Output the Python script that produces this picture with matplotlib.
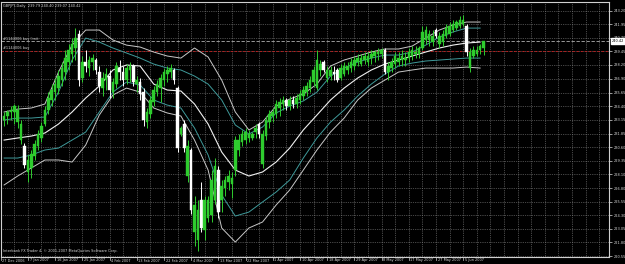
import matplotlib
matplotlib.use("Agg")
import matplotlib.pyplot as plt
import matplotlib.transforms as mtransforms

# ---------------- data ----------------
bars = list(range(1, 143))
opens = [233.11, 233.48, 233.85, 233.85, 232.92, 231.26, 230.71, 228.31, 228.68, 229.79,
         230.71, 231.45, 232.74, 234.03, 234.96, 235.69, 236.06, 236.80, 237.54, 238.47,
         239.20, 239.76, 241.05, 236.99, 238.47, 237.91, 238.47, 238.65, 237.54, 236.06,
         236.80, 237.17, 235.69, 236.43, 237.91, 237.54, 236.80, 237.73, 238.10, 236.43,
         236.62, 235.69, 232.92, 233.66, 234.77, 235.69, 236.06, 236.80, 237.36, 237.54,
         237.73, 236.06, 231.82, 232.74, 227.94, 230.34, 222.77, 222.03, 225.72, 222.95,
         224.06, 224.34, 225.72, 228.49, 225.72, 226.83, 227.38, 227.20, 228.49, 230.34,
         231.08, 231.26, 231.45, 231.45, 232.00, 232.74, 229.05, 231.63, 232.92, 233.48,
         233.66, 234.22, 234.59, 234.96, 234.40, 234.96, 234.59, 234.96, 235.33, 235.69,
         236.06, 236.62, 236.06, 237.73, 238.47, 236.99, 237.17, 237.54, 237.73, 236.99,
         237.36, 237.73, 237.91, 238.10, 238.47, 238.28, 238.65, 238.47, 238.83, 239.02,
         239.20, 239.20, 239.57, 237.54, 237.91, 238.28, 238.47, 238.65, 238.65, 238.83,
         239.02, 239.20, 239.20, 239.76, 240.50, 240.50, 240.31, 241.42, 240.13, 240.31,
         240.87, 241.05, 241.42, 241.60, 241.79, 241.97, 241.79, 237.91, 239.02, 239.20,
         239.57, 239.79]
highs = [233.85, 234.03, 234.40, 234.59, 234.50, 233.11, 230.99, 229.88, 230.34, 231.26,
         232.19, 232.92, 234.40, 235.69, 236.43, 236.99, 237.73, 238.47, 239.57, 240.13,
         240.68, 241.60, 241.42, 239.02, 239.57, 239.02, 239.20, 238.83, 238.10, 237.54,
         237.91, 237.73, 236.99, 238.47, 238.65, 238.10, 238.28, 238.47, 238.28, 237.17,
         236.99, 236.06, 234.22, 235.33, 236.25, 236.80, 237.36, 237.91, 238.10, 238.28,
         237.91, 236.25, 232.56, 233.11, 231.26, 230.52, 226.09, 225.72, 227.38, 226.09,
         226.09, 228.49, 229.60, 228.86, 227.57, 227.94, 228.49, 228.31, 231.63, 231.82,
         232.19, 232.37, 232.19, 232.00, 232.74, 232.92, 232.19, 233.48, 234.03, 234.22,
         234.96, 235.14, 235.33, 235.14, 235.33, 235.33, 235.51, 235.88, 236.25, 236.62,
         237.17, 238.10, 239.57, 238.65, 238.65, 238.10, 238.10, 238.10, 237.91, 238.28,
         238.47, 238.47, 238.83, 239.02, 239.20, 239.20, 239.39, 239.39, 239.57, 239.57,
         239.76, 239.76, 239.76, 238.47, 238.83, 239.39, 239.39, 239.57, 239.39, 239.76,
         239.94, 239.94, 239.94, 241.79, 241.79, 241.42, 241.42, 241.60, 241.24, 241.42,
         241.97, 242.16, 242.34, 242.34, 242.71, 242.80, 241.97, 239.76, 239.94, 239.94,
         240.13, 240.40]
lows = [232.56, 232.74, 233.11, 232.74, 232.37, 230.89, 228.68, 227.38, 227.75, 229.42,
        230.34, 231.08, 232.56, 233.66, 234.40, 234.96, 235.51, 236.25, 236.80, 237.73,
        238.47, 238.65, 236.25, 236.62, 237.54, 237.17, 237.73, 237.36, 235.69, 235.33,
        235.88, 235.14, 235.14, 236.06, 236.80, 236.25, 236.43, 236.62, 236.25, 235.69,
        234.96, 232.56, 232.37, 233.29, 234.40, 235.33, 234.77, 236.25, 236.62, 236.99,
        236.43, 230.15, 231.63, 230.15, 227.38, 224.43, 221.48, 221.01, 222.77, 222.03,
        223.69, 223.69, 225.35, 224.06, 224.61, 226.09, 226.65, 225.91, 227.94, 229.79,
        230.71, 230.89, 231.08, 231.26, 231.45, 231.45, 228.68, 231.26, 232.37, 232.92,
        233.29, 233.48, 234.03, 234.03, 234.03, 234.22, 234.22, 234.59, 234.96, 235.33,
        235.69, 236.25, 235.88, 237.17, 237.54, 236.62, 236.80, 236.80, 236.62, 236.80,
        237.17, 237.36, 237.54, 237.73, 238.10, 238.10, 238.28, 238.10, 238.28, 238.47,
        238.65, 238.83, 237.36, 236.80, 237.54, 237.91, 238.10, 238.10, 238.10, 238.47,
        238.65, 238.83, 238.83, 239.57, 240.13, 239.94, 239.94, 240.68, 239.76, 239.94,
        240.68, 240.87, 241.24, 241.42, 241.60, 241.79, 239.02, 237.54, 238.83, 239.02,
        239.20, 239.07]
closes = [233.48, 233.85, 234.03, 234.40, 234.03, 232.74, 228.95, 229.42, 229.97, 230.89,
          231.82, 232.56, 234.03, 235.14, 235.88, 236.43, 237.17, 237.91, 238.83, 239.57,
          240.13, 240.68, 236.80, 238.47, 238.10, 238.65, 238.83, 237.73, 236.25, 236.99,
          237.36, 235.88, 236.62, 238.10, 237.54, 236.80, 237.91, 238.10, 236.62, 236.80,
          235.51, 233.11, 233.85, 234.96, 235.88, 236.43, 236.99, 237.54, 237.73, 237.91,
          236.80, 230.52, 232.37, 230.52, 230.71, 224.80, 225.26, 224.80, 223.14, 225.72,
          225.72, 227.57, 228.86, 224.61, 227.01, 227.57, 227.94, 227.75, 231.26, 231.26,
          231.82, 232.00, 231.82, 231.82, 232.37, 231.82, 231.82, 233.11, 233.66, 233.85,
          234.59, 234.77, 234.96, 234.40, 234.96, 234.59, 235.14, 235.51, 235.88, 236.25,
          236.80, 237.73, 238.65, 238.28, 237.73, 237.73, 237.73, 237.36, 236.80, 237.91,
          238.10, 238.10, 238.47, 238.65, 238.83, 238.83, 239.02, 239.02, 239.20, 239.39,
          239.39, 239.57, 237.54, 238.10, 238.47, 239.02, 238.83, 239.02, 238.83, 239.39,
          239.57, 239.39, 239.76, 241.24, 241.42, 241.05, 240.87, 240.87, 240.87, 241.05,
          241.60, 241.79, 241.97, 242.16, 242.34, 242.34, 239.39, 239.39, 239.57, 239.57,
          239.94, 240.42]

# indicator lines, read every 4 bars
band_x = [1, 5, 9, 13, 17, 21, 25, 29, 33, 37, 41, 45, 49, 53, 57, 61, 65, 69, 73, 77,
          81, 85, 89, 93, 97, 101, 105, 109, 113, 117, 121, 125, 129, 133, 137, 141]
outer_upper = [233.85, 234.12, 234.22, 234.59, 237.54, 240.03, 241.42, 241.42, 240.50, 240.03,
               239.85, 239.39, 239.02, 238.83, 239.76, 238.93, 236.80, 233.85, 232.19, 232.92,
               234.40, 235.05, 235.51, 236.43, 238.10, 238.65, 239.02, 239.39, 239.67, 239.67,
               239.94, 240.68, 241.42, 241.88, 242.16, 242.16]
inner_upper = [233.11, 233.29, 233.29, 233.39, 235.69, 238.65, 240.68, 240.31, 239.76, 239.30,
               238.83, 238.28, 237.91, 237.73, 237.17, 236.43, 234.96, 232.65, 231.82, 232.46,
               233.76, 234.40, 234.87, 235.69, 237.17, 237.91, 238.47, 238.83, 239.11, 239.11,
               239.39, 240.03, 240.77, 241.24, 241.60, 241.60]
middle = [231.26, 231.45, 231.63, 231.91, 232.74, 233.85, 235.14, 236.25, 237.73, 238.19,
          238.10, 236.43, 235.88, 235.79, 234.59, 232.74, 230.15, 228.49, 227.94, 228.31,
          229.23, 230.52, 232.19, 233.57, 234.96, 236.06, 236.99, 237.73, 238.28, 238.65,
          239.02, 239.39, 239.76, 240.03, 240.22, 240.31]
inner_lower = [229.60, 229.60, 229.88, 230.34, 230.52, 231.26, 232.00, 233.85, 235.69, 236.62,
               236.34, 234.96, 234.49, 234.22, 232.37, 229.88, 226.18, 224.24, 224.61, 225.54,
               226.46, 227.57, 229.60, 231.45, 232.92, 234.03, 235.33, 236.43, 237.36, 238.10,
               238.37, 238.56, 238.65, 238.74, 238.83, 238.83]
outer_lower = [227.11, 227.94, 228.68, 229.42, 229.42, 229.23, 230.80, 233.57, 235.42, 236.06,
               235.69, 234.22, 233.76, 233.48, 231.26, 228.49, 223.14, 221.84, 223.14, 223.69,
               225.26, 226.65, 228.49, 230.34, 232.00, 233.29, 234.96, 236.06, 236.80, 237.54,
               237.73, 237.91, 237.91, 237.91, 238.00, 237.91]

price_ticks = [243.20, 241.95, 240.70, 239.45, 238.20, 236.90, 235.65, 234.40, 233.15,
               231.85, 230.60, 229.35, 228.10, 226.80, 225.55, 224.30, 223.05, 221.80, 220.55]
date_ticks = [0, 8, 16, 24, 32, 40, 48, 56, 64, 72, 80, 88, 96, 104, 112, 120, 128, 136]
date_labels = ["27 Dec 2006", "7 Jan 2007", "16 Jan 2007", "25 Jan 2007", "4 Feb 2007",
               "13 Feb 2007", "22 Feb 2007", "4 Mar 2007", "13 Mar 2007", "22 Mar 2007",
               "1 Apr 2007", "10 Apr 2007", "18 Apr 2007", "29 Apr 2007", "8 May 2007",
               "17 May 2007", "27 May 2007", "5 Jun 2007"]
bid_price = 240.42
limit_price = 240.40
buy_price = 239.48
title_text = "GBPJPY,Daily  239.79 240.40 239.07 240.42"
footer_text = "Interbank FX Trader 4, \u00a9 2001-2007 MetaQuotes Software Corp."

# ---------------- figure ----------------
W, H = 625, 264
FS = 2.5
TXT = "#d8d8d8"
fig = plt.figure(figsize=(W / 100, H / 100), dpi=100, facecolor="black")
ax = fig.add_axes([1 / W, 1 - 257 / H, 608 / W, 255 / H], facecolor="black")
ax.set_xlim(0.09, 178.9)
ax.set_ylim(220.46, 244.01)

grid_kw = dict(color="#8c8c8c", lw=0.5, ls=(0, (1, 1.6)), zorder=0)
for gx in range(0, 179, 4):
    ax.axvline(gx, **grid_kw)
for p in price_ticks:
    ax.axhline(p, **grid_kw)

# order lines
ax.axhline(limit_price, color="#b0b0b0", lw=0.6, ls=(0, (4, 2)), zorder=1)
ax.axhline(buy_price, color="#c02020", lw=0.6, ls=(0, (3, 2)), zorder=1)

# indicator lines
ax.plot(band_x, outer_upper, color="#c8c8c8", lw=0.7, zorder=2)
ax.plot(band_x, outer_lower, color="#c8c8c8", lw=0.7, zorder=2)
ax.plot(band_x, inner_upper, color="#3f9a9a", lw=0.7, zorder=2)
ax.plot(band_x, inner_lower, color="#3f9a9a", lw=0.7, zorder=2)
ax.plot(band_x, middle, color="#f0f0f0", lw=0.8, zorder=2)

# candles
green = "#2ecc2e"
for b, o, h, l, c in zip(bars, opens, highs, lows, closes):
    col = green if c >= o else "white"
    ax.vlines(b, l, h, color=col, lw=0.7, zorder=3)
    ax.bar(b, abs(c - o) if abs(c - o) > 0.05 else 0.05, bottom=min(o, c), width=0.72,
           color=col, edgecolor=col, lw=0.3, zorder=4)

for s in ax.spines.values():
    s.set_color("#d0d0d0")
    s.set_linewidth(0.8)

ax.set_xticks([])
ax.yaxis.tick_right()
ax.set_yticks(price_ticks)
ax.set_yticklabels([f"{p:.2f}" for p in price_ticks])
ax.tick_params(axis="y", colors=TXT, labelsize=FS, length=2, width=0.5, pad=1.2)

trans = mtransforms.blended_transform_factory(ax.transData, fig.transFigure)
for t, lab in zip(date_ticks, date_labels):
    ax.text(t + 0.5, 1 - 260.5 / H, lab, transform=trans, color=TXT, fontsize=FS,
            ha="left", va="center", clip_on=False)
    ax.plot([t, t], [1 - 257 / H, 1 - 259.5 / H], transform=trans, color="#d0d0d0",
            lw=0.5, clip_on=False)

# price box
ty = ax.transData.transform((0, bid_price))[1] / (H * fig.dpi / 100)
fig.text(611.5 / W, ty, f"{bid_price:.2f}", color="black", fontsize=FS, ha="left",
         va="center", bbox=dict(boxstyle="square,pad=0.2", fc="white", ec="white"))

ax.text(0.004, 1 - 3.5 / 255, title_text, transform=ax.transAxes, color=TXT,
        fontsize=FS, ha="left", va="center")
ax.text(0.004, 1 - 37 / 255, "#1144006 buy limit", transform=ax.transAxes, color=TXT,
        fontsize=FS, ha="left", va="center")
ax.text(0.004, 1 - 46.5 / 255, "#1144006 buy", transform=ax.transAxes, color=TXT,
        fontsize=FS, ha="left", va="center")
ax.text(0.004, 1 - 249 / 255, footer_text, transform=ax.transAxes, color=TXT,
        fontsize=FS, ha="left", va="center")

fig.savefig("out.png", dpi=100, facecolor="black")
